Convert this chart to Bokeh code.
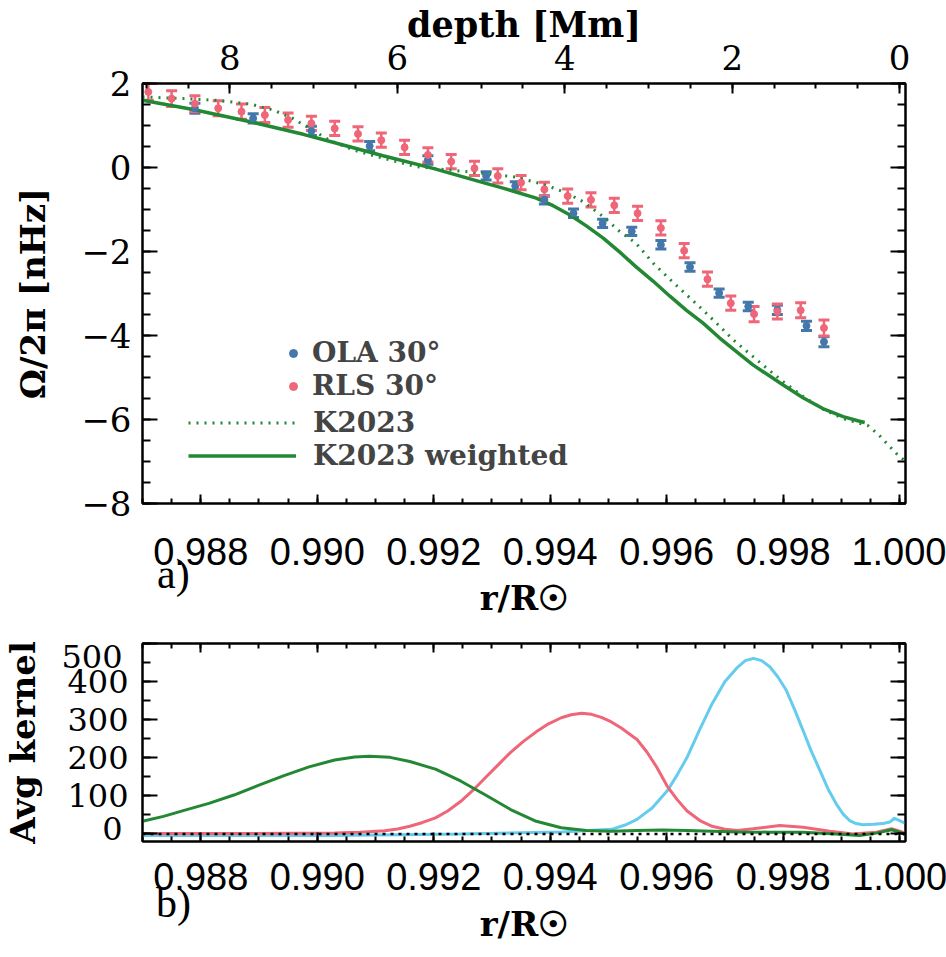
from bokeh.plotting import figure
from bokeh.models import (Range1d, LinearAxis, SingleIntervalTicker, FixedTicker, PrintfTickFormatter,
                          CustomJSTickFormatter, Whisker, TeeHead, ColumnDataSource,
                          Legend, LegendItem, Span)
from bokeh.layouts import column
from bokeh.embed import file_html
from bokeh.resources import INLINE

# ---------------- data ----------------
R_SUN_MM = 695.7
R_MIN, R_MAX = 0.98700, 1.00010
R_MID = (R_MIN + R_MAX) / 2    # centre of the frame, for the top title
PANEL_TAG_R = 0.98753          # where the "a)" / "b)" tags sit
KERNEL_LABEL_Y = [466, 14]     # where the end labels "500" and "0" of panel b sit

# OLA inversion, 30 deg latitude (blue)
ola_r = [0.9879, 0.9889, 0.9899, 0.9909, 0.9919, 0.9929, 0.9934, 0.9939, 0.9944,
         0.9949, 0.9954, 0.9959, 0.9964, 0.9969, 0.9974, 0.9979, 0.9984, 0.9987]
ola_v = [1.41, 1.17, 0.87, 0.51, 0.18, -0.20, -0.44, -0.77, -1.09,
         -1.33, -1.52, -1.84, -2.37, -2.99, -3.31, -3.39, -3.77, -4.15]
ola_err = [0.12, 0.11, 0.11, 0.11, 0.10, 0.10, 0.10, 0.10, 0.10,
           0.10, 0.10, 0.10, 0.10, 0.10, 0.10, 0.11, 0.11, 0.12]

# RLS inversion, 30 deg latitude (red)
rls_r = [0.9871, 0.9875, 0.9879, 0.9883, 0.9887, 0.9891, 0.9895, 0.9899, 0.9903, 0.9907,
         0.9911, 0.9915, 0.9919, 0.9923, 0.9927, 0.9931, 0.9935, 0.9939, 0.9943, 0.9947,
         0.9951, 0.9955, 0.9959, 0.9963, 0.9967, 0.9971, 0.9975, 0.9979, 0.9983, 0.9987]
rls_v = [1.80, 1.64, 1.52, 1.41, 1.33, 1.25, 1.13, 1.05, 0.93, 0.80,
         0.65, 0.48, 0.30, 0.14, -0.02, -0.20, -0.36, -0.52, -0.68, -0.77,
         -0.90, -1.09, -1.44, -1.98, -2.66, -3.23, -3.49, -3.43, -3.40, -3.82]
rls_err = [0.20, 0.19, 0.19, 0.18, 0.18, 0.18, 0.17, 0.17, 0.17, 0.17,
           0.17, 0.17, 0.17, 0.17, 0.17, 0.17, 0.17, 0.17, 0.17, 0.17,
           0.17, 0.17, 0.17, 0.17, 0.17, 0.17, 0.18, 0.18, 0.18, 0.19]

# K2023 model (dotted) and K2023 weighted (solid)
k_r = [0.98700, 0.98770, 0.98827, 0.98885, 0.98924, 0.98958, 0.98987, 0.99021, 0.99061,
       0.99113, 0.99170, 0.99227, 0.99285, 0.99342, 0.99393, 0.99428, 0.99456, 0.99491,
       0.99519, 0.99547, 0.99577, 0.99606, 0.99634, 0.99662, 0.99691, 0.99714, 0.99765,
       0.99800, 0.99834, 0.99868, 0.99903, 0.99928, 0.99946, 0.99963, 0.99980, 0.99997,
       1.00009]
k_v = [1.68, 1.64, 1.60, 1.51, 1.37, 1.17, 0.93, 0.65, 0.42,
       0.22, 0.02, -0.06, -0.14, -0.23, -0.42, -0.61, -0.81, -1.17,
       -1.52, -1.80, -2.28, -2.67, -3.03, -3.39, -3.78, -4.10, -4.70,
       -5.10, -5.45, -5.75, -5.98, -6.08, -6.15, -6.35, -6.60, -6.85,
       -6.98]
kw_r = [0.98700, 0.98787, 0.98885, 0.98976, 0.99027, 0.99113, 0.99199, 0.99285, 0.99319,
        0.99376, 0.99405, 0.99434, 0.99462, 0.99491, 0.99519, 0.99547, 0.99577, 0.99606,
        0.99634, 0.99662, 0.99691, 0.99748, 0.99800, 0.99834, 0.99868, 0.99903, 0.99928,
        0.99940]
kw_v = [1.60, 1.38, 1.09, 0.79, 0.60, 0.28, -0.02, -0.36, -0.49,
        -0.73, -0.91, -1.13, -1.39, -1.68, -2.01, -2.36, -2.71, -3.07,
        -3.40, -3.70, -4.06, -4.70, -5.18, -5.48, -5.74, -5.93, -6.03,
        -6.07]

# averaging kernels (panel b)
kg_r = [0.98700, 0.98736, 0.98770, 0.98814, 0.98857, 0.98900, 0.98943, 0.98986, 0.99030,
        0.99064, 0.99090, 0.99125, 0.99159, 0.99203, 0.99246, 0.99289, 0.99332, 0.99376,
        0.99419, 0.99462, 0.99505, 0.99549, 0.99592, 0.99635, 0.99678, 0.99722, 0.99777,
        0.99834, 0.99891, 0.99931, 0.99960, 0.99986, 1.00000, 1.00009]
kg_v = [33, 46, 61, 80, 102, 128, 153, 176, 194,
        202, 204, 201, 190, 170, 139, 102, 64, 33,
        16, 9, 7, 9, 10, 9, 7, 5, 4.5,
        4, 0, -4, 2, 11, 4.5, -1]

kp_r = [0.98700, 0.98857, 0.99030, 0.99073, 0.99116, 0.99138, 0.99159, 0.99181, 0.99203,
        0.99224, 0.99246, 0.99267, 0.99289, 0.99311, 0.99332, 0.99354, 0.99376, 0.99397,
        0.99419, 0.99436, 0.99454, 0.99471, 0.99488, 0.99505, 0.99522, 0.99549, 0.99566,
        0.99583, 0.99601, 0.99618, 0.99635, 0.99657, 0.99678, 0.99700, 0.99722, 0.99748,
        0.99794, 0.99834, 0.99880, 0.99920, 0.99960, 0.99986, 1.00000, 1.00009]
kp_v = [1, 1, 2, 4, 8.5, 13, 20, 30, 42,
        60, 85, 114, 148, 182, 214, 243, 268, 289,
        305, 313, 317, 314, 306, 294, 278, 248, 215,
        175, 125, 90, 60, 35, 20, 12, 9, 13.5,
        22, 17.6, 7, 0, 4.5, 13.5, 7, 2]

kc_r = [0.98700, 0.99030, 0.99246, 0.99419, 0.99505, 0.99530, 0.99549, 0.99575, 0.99601,
        0.99618, 0.99635, 0.99657, 0.99678, 0.99700, 0.99722, 0.99735, 0.99749, 0.99763,
        0.99777, 0.99791, 0.99805, 0.99820, 0.99834, 0.99848, 0.99863, 0.99877, 0.99891,
        0.99903, 0.99914, 0.99925, 0.99937, 0.99955, 0.99971, 0.99983, 0.99991, 1.00000,
        1.00009]
kc_v = [-4, -4, 0, 5, 12, 24, 38, 68, 113,
        155, 201, 275, 342, 400, 438, 455, 461, 455,
        439, 412, 378, 325, 272, 218, 167, 118, 79,
        52, 35, 27, 24, 25, 27, 31, 41, 35,
        28]

# ---------------- style ----------------
BLUE, RED, GREEN, CYAN = "#4477AA", "#EE6677", "#228833", "#66CCEE"
SERIF = "DejaVu Serif"
SANS = "Liberation Sans"
TAG = "Liberation Serif"

minus_fmt = CustomJSTickFormatter(code="return tick < 0 ? '\\u2212' + (-tick) : String(tick);")
blank_fmt = CustomJSTickFormatter(code="return '';")


def ticks_in(ax, major=12, minor=6):
    ax.major_tick_in = major
    ax.major_tick_out = 0
    ax.minor_tick_in = minor
    ax.minor_tick_out = 0
    ax.axis_line_width = 2
    ax.major_tick_line_width = 2
    ax.minor_tick_line_width = 2
    ax.axis_line_color = "black"
    ax.major_tick_line_color = "black"
    ax.minor_tick_line_color = "black"
    ax.major_label_text_color = "black"
    ax.axis_label_text_color = "black"


def title_font(ax, size="34px"):
    ax.axis_label_text_font = SERIF
    ax.axis_label_text_font_size = size
    ax.axis_label_text_font_style = "bold"


def hidden_axis(ticker, major, minor):
    ax = LinearAxis(ticker=ticker, formatter=blank_fmt)
    ticks_in(ax, major, minor)
    ax.major_label_standoff = 0
    ax.major_label_text_font_size = "10px"
    return ax


def label_only_axis(ticks, code, font, size, standoff, style="normal", **kw):
    ax = LinearAxis(ticker=FixedTicker(ticks=ticks, minor_ticks=[]),
                    formatter=CustomJSTickFormatter(code=code), **kw)
    ax.axis_line_color = None
    ax.major_tick_line_color = None
    ax.minor_tick_line_color = None
    ax.major_tick_in = 0
    ax.major_tick_out = 0
    ax.minor_tick_in = 0
    ax.minor_tick_out = 0
    ax.major_label_text_font = font
    ax.major_label_text_font_size = size
    ax.major_label_text_font_style = style
    ax.major_label_text_color = "black"
    ax.major_label_standoff = standoff
    return ax


def base_fig(frame_h, y0, y1, top, bottom):
    p = figure(frame_width=763, frame_height=frame_h,
               min_border_left=139, min_border_right=44,
               min_border_top=top, min_border_bottom=bottom,
               x_range=Range1d(R_MIN, R_MAX), y_range=Range1d(y0, y1),
               output_backend="svg", toolbar_location=None)
    p.grid.visible = False
    p.outline_line_color = "black"
    p.outline_line_width = 2
    p.background_fill_color = "white"
    p.border_fill_color = "white"
    return p


# ---------------- panel a ----------------
p1 = base_fig(420, -8, 2, 83, 120)

xt = SingleIntervalTicker(interval=0.002, num_minor_ticks=4)
yt = SingleIntervalTicker(interval=2, num_minor_ticks=4)

xa = p1.xaxis[0]
xa.ticker = xt
xa.formatter = PrintfTickFormatter(format="%.3f")
xa.axis_label = "r/R☉"
ticks_in(xa, 9, 5)
title_font(xa)
xa.major_label_text_font = SANS
xa.major_label_text_font_size = "38px"
xa.major_label_standoff = 34
xa.axis_label_standoff = 10
p1.add_layout(label_only_axis([PANEL_TAG_R], "return 'a)';", TAG, "42px", -70), "below")

ya = p1.yaxis[0]
ya.ticker = yt
ya.formatter = minus_fmt
ya.axis_label = "Ω/2π [nHz]"
ticks_in(ya, 15, 8)
title_font(ya)
ya.major_label_text_font = SERIF
ya.major_label_text_font_size = "34px"
ya.major_label_standoff = 11
ya.axis_label_standoff = 25

p1.add_layout(hidden_axis(yt, 15, 8), "right")

# top: depth axis (ticks + numbers), then its title
p1.extra_x_ranges = {"depth": Range1d(start=(1 - R_MIN) * R_SUN_MM, end=(1 - R_MAX) * R_SUN_MM)}
da = LinearAxis(x_range_name="depth", ticker=SingleIntervalTicker(interval=2, num_minor_ticks=4))
ticks_in(da, 10, 5)
da.major_label_text_font = SERIF
da.major_label_text_font_size = "34px"
da.major_label_standoff = 14
p1.add_layout(da, "above")
p1.add_layout(label_only_axis([R_MID], "return 'depth [Mm]';", SERIF, "35px", -3, style="bold"), "above")

k_line = p1.line(k_r, k_v, line_color=GREEN, line_width=3, line_dash="2 6")
kw_line = p1.line(kw_r, kw_v, line_color=GREEN, line_width=3.5)

ola_src = ColumnDataSource(dict(r=ola_r, v=ola_v,
                                lo=[v - e for v, e in zip(ola_v, ola_err)],
                                hi=[v + e for v, e in zip(ola_v, ola_err)]))
rls_src = ColumnDataSource(dict(r=rls_r, v=rls_v,
                                lo=[v - e for v, e in zip(rls_v, rls_err)],
                                hi=[v + e for v, e in zip(rls_v, rls_err)]))

for src, col in ((ola_src, BLUE), (rls_src, RED)):
    w = Whisker(base="r", lower="lo", upper="hi", source=src, dimension="height",
                line_color=col, line_width=2.5,
                upper_head=TeeHead(size=11, line_color=col, line_width=3),
                lower_head=TeeHead(size=11, line_color=col, line_width=3))
    p1.add_layout(w)

ola_pts = p1.scatter("r", "v", source=ola_src, size=7, color=BLUE, marker="circle")
rls_pts = p1.scatter("r", "v", source=rls_src, size=7, color=RED, marker="circle")

leg_pts = Legend(items=[LegendItem(label="OLA 30°", renderers=[ola_pts]),
                        LegendItem(label="RLS 30°", renderers=[rls_pts])],
                 location=(141, 101), orientation="vertical", padding=0, margin=0, spacing=-10,
                 glyph_width=20, glyph_height=28, label_height=28, label_standoff=9,
                 label_text_font=SERIF, label_text_font_size="28px", label_text_font_style="bold",
                 border_line_alpha=0, background_fill_alpha=0)
leg_lines = Legend(items=[LegendItem(label="K2023", renderers=[k_line]),
                          LegendItem(label="K2023 weighted", renderers=[kw_line])],
                   location=(46, 31), orientation="vertical", padding=0, margin=0, spacing=-9,
                   glyph_width=108, glyph_height=29, label_height=29, label_standoff=17,
                   label_text_font=SERIF, label_text_font_size="28px", label_text_font_style="bold",
                   border_line_alpha=0, background_fill_alpha=0)
p1.add_layout(leg_pts)
p1.add_layout(leg_lines)

# ---------------- panel b ----------------
p2 = base_fig(198, -20, 500, 20, 115)

xb = p2.xaxis[0]
xb.ticker = xt
xb.formatter = PrintfTickFormatter(format="%.3f")
xb.axis_label = "r/R☉"
ticks_in(xb, 9, 5)
title_font(xb)
xb.major_label_text_font = SANS
xb.major_label_text_font_size = "38px"
xb.major_label_standoff = 21
xb.axis_label_standoff = 11
p2.add_layout(label_only_axis([PANEL_TAG_R], "return 'b)';", TAG, "42px", -67), "below")

ykt = SingleIntervalTicker(interval=100, num_minor_ticks=2)
yb = p2.yaxis[0]
yb.ticker = ykt
yb.formatter = CustomJSTickFormatter(code="return (tick == 0 || tick == 500) ? '' : String(tick);")
yb.axis_label = "Avg kernel"
ticks_in(yb, 15, 8)
title_font(yb)
yb.major_label_text_font = SERIF
yb.major_label_text_font_size = "32px"
yb.major_label_standoff = 14
yb.axis_label_standoff = 21
# end labels "500" / "0", nudged inside the frame span as in the original
p2.add_layout(label_only_axis(KERNEL_LABEL_Y, "return tick > 250 ? '500' : '0';",
                              SERIF, "32px", -122), "left")

p2.add_layout(hidden_axis(ykt, 15, 8), "right")
p2.add_layout(hidden_axis(xt, 9, 5), "above")

p2.line(kc_r, kc_v, line_color=CYAN, line_width=3)
p2.line(kp_r, kp_v, line_color=RED, line_width=3)
p2.line(kg_r, kg_v, line_color=GREEN, line_width=3)
p2.add_layout(Span(location=0, dimension="width", line_color="black",
                   line_width=2.5, line_dash="3 5"))

layout = column(p1, p2, spacing=0)
open("out.html", "w").write(file_html(layout, INLINE))
